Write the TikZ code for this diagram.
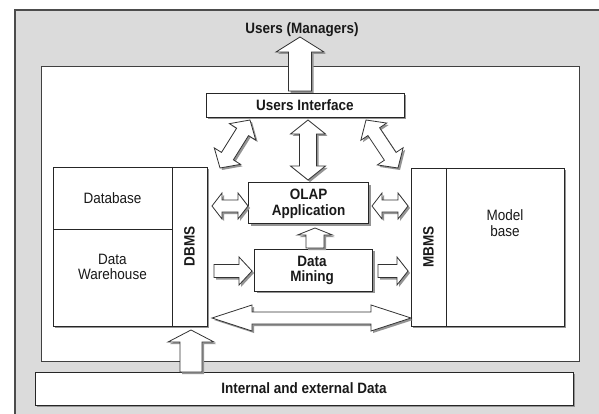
\documentclass[tikz,border=0pt]{standalone}
\usepackage{fontspec}
\setmainfont{Liberation Sans}[FakeStretch=0.9]
\usetikzlibrary{calc,shadows}

\tikzset{
  dshadow/.style={drop shadow={shadow xshift=2pt,shadow yshift=-2pt,fill=black!42,opacity=1}},
  box/.style={draw=black!85,fill=white,line width=0.9pt,dshadow,inner sep=0pt},
  fat/.style={draw=black!80,fill=white,line width=0.8pt,line join=miter,dshadow},
  lbl/.style={font=\fontsize{15}{15.5}\selectfont,align=center,inner sep=0pt,text=black!90},
  blbl/.style={lbl,font=\fontsize{15}{15.5}\selectfont\bfseries},
}

% outlined block arrow with a head at both ends:
% #1 start, #2 end, #3 half shaft width, #4 half head width, #5 head length
\newcommand\fatdouble[5]{%
  \path ($(#1)!#5!(#2)$) coordinate (faA) ($(#2)!#5!(#1)$) coordinate (faB);
  \draw[fat] (#1) -- ($(faA)!#4!90:(#2)$) -- ($(faA)!#3!90:(#2)$)
    -- ($(faB)!#3!-90:(#1)$) -- ($(faB)!#4!-90:(#1)$) -- (#2)
    -- ($(faB)!#4!90:(#1)$) -- ($(faB)!#3!90:(#1)$)
    -- ($(faA)!#3!-90:(#2)$) -- ($(faA)!#4!-90:(#2)$) -- cycle;}
% outlined block arrow with a head at the end only
\newcommand\fatsingle[5]{%
  \path ($(#2)!#5!(#1)$) coordinate (faB);
  \draw[fat] ($(#1)!#3!90:(#2)$) -- ($(faB)!#3!-90:(#1)$)
    -- ($(faB)!#4!-90:(#1)$) -- (#2) -- ($(faB)!#4!90:(#1)$)
    -- ($(faB)!#3!90:(#1)$) -- ($(#1)!#3!-90:(#2)$) -- cycle;}

\begin{document}
\begin{tikzpicture}[x=1pt,y=-1pt]
\useasboundingbox (0,0) rectangle (599,414);

% grey surround and white system frame
\fill[black!14] (15,10) rectangle (599,414);
\draw[black!70,line width=1.2pt] (15,414) -- (15,10) -- (599,10);
\draw[black!75,line width=1pt,fill=white] (41,67) rectangle (579,361);

% boxes
\node[blbl] (users) at (302,30) {Users (Managers)};
\node[box,minimum width=198pt,minimum height=24pt] (ui) at (305,105) {};
\node[blbl] at (ui) {Users Interface};
\node[box,minimum width=120pt,minimum height=41pt] (olap) at (308.5,203) {};
\node[blbl] at (308.5,204) {OLAP\\Application};
\node[box,minimum width=118pt,minimum height=42pt] (dm) at (313.5,270) {};
\node[blbl] at (312,270.5) {Data\\Mining};
\node[box,minimum width=538pt,minimum height=33pt] (ext) at (304,388.5) {};
\node[blbl] at (ext) {Internal and external Data};

% database side
\node[box,minimum width=154pt,minimum height=159pt] (dbblock) at (130,246.5) {};
\draw[black!85,line width=0.9pt] (172,167) -- (172,326);
\draw[black!85,line width=0.9pt] (53,229) -- (172,229);
\node[lbl] (db) at (112.5,198) {Database};
\node[lbl] (dw) at (112.5,267) {Data\\Warehouse};
\node[blbl,rotate=90] (dbms) at (189.5,246.5) {DBMS};

% model side
\node[box,minimum width=153pt,minimum height=158pt] (mbblock) at (487.5,247) {};
\draw[black!85,line width=0.9pt] (446,168) -- (446,326);
\node[blbl,rotate=90] (mbms) at (428.5,247) {MBMS};
\node[lbl] (mb) at (505,223) {Model\\base};

% arrow end points
\coordinate (upA) at (300,91);   \coordinate (upB) at (300,37);
\coordinate (dlA) at (220,168);  \coordinate (dlB) at (250,120);
\coordinate (dcA) at (308,180);  \coordinate (dcB) at (308,120);
\coordinate (drA) at (398,168);  \coordinate (drB) at (366,120);
\coordinate (olA) at (212,206);  \coordinate (olB) at (248,206);
\coordinate (orA) at (372,206);  \coordinate (orB) at (408,206);
\coordinate (muA) at (315,248);  \coordinate (muB) at (315,228);
\coordinate (mlA) at (214,271);  \coordinate (mlB) at (252,271);
\coordinate (mrA) at (378,271);  \coordinate (mrB) at (408,271);
\coordinate (bgA) at (212,318);  \coordinate (bgB) at (411,318);
\coordinate (inA) at (191,372);  \coordinate (inB) at (191,330);

% block arrows
\fatsingle{upA}{upB}{11.5pt}{24pt}{15pt}
\fatdouble{dlA}{dlB}{7pt}{15.5pt}{14pt}
\fatdouble{dcA}{dcB}{8.5pt}{17.5pt}{14pt}
\fatdouble{drA}{drB}{7pt}{15.5pt}{14pt}
\fatdouble{olA}{olB}{6pt}{13pt}{10pt}
\fatdouble{orA}{orB}{6pt}{13pt}{10pt}
\fatsingle{muA}{muB}{9pt}{17.5pt}{7pt}
\fatsingle{mlA}{mlB}{6.5pt}{14pt}{13pt}
\fatsingle{mrA}{mrB}{6.5pt}{14pt}{11pt}
\fatdouble{bgA}{bgB}{6pt}{13pt}{40pt}
\fatsingle{inA}{inB}{11pt}{23pt}{12pt}
\end{tikzpicture}
\end{document}
